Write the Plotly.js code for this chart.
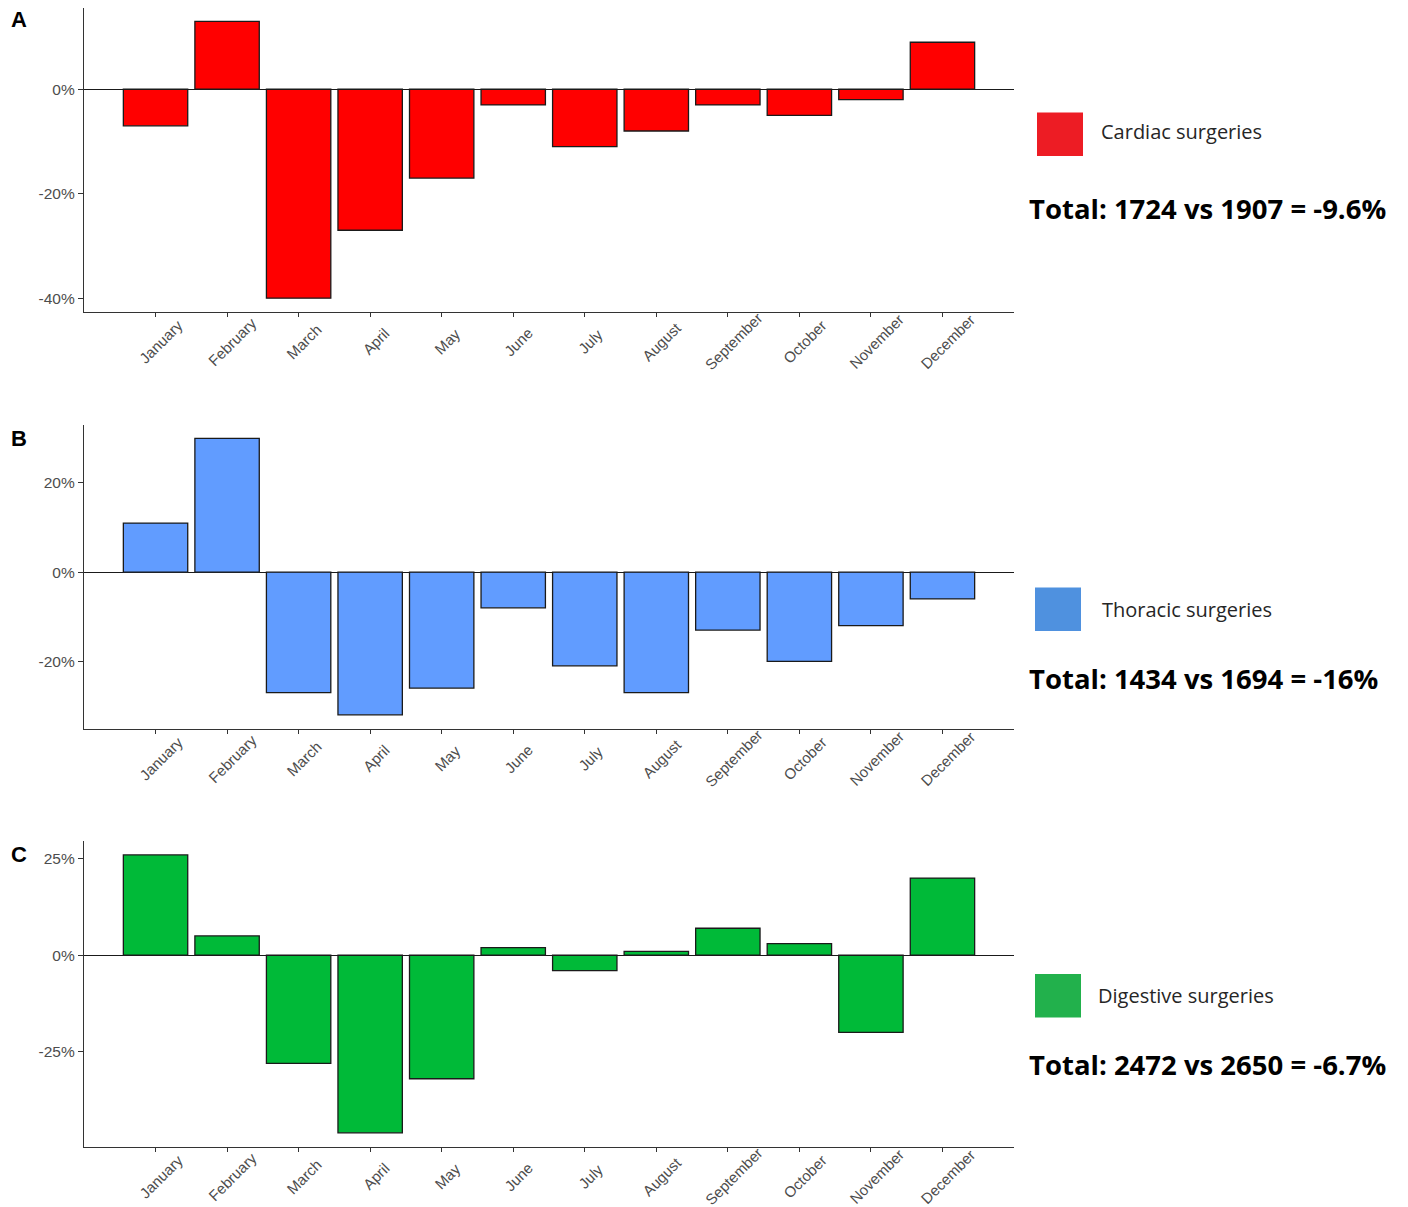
<!DOCTYPE html>
<html>
<head>
<meta charset="utf-8">
<script src="https://cdn.plot.ly/plotly-3.0.1.min.js"></script>
<style>
html,body{margin:0;padding:0;background:#fff;}
#chart{width:1408px;height:1207px;}
</style>
</head>
<body>
<div id="chart"></div>
<script>
// ---- data ----
const months = ["January","February","March","April","May","June","July","August","September","October","November","December"];
const cardiac   = [-7, 13, -40, -27, -17, -3, -11, -8, -3, -5, -2, 9];
const thoracic  = [11, 30, -27, -32, -26, -8, -21, -27, -13, -20, -12, -6];
const digestive = [26, 5, -28, -46, -32, 2, -4, 1, 7, 3, -20, 20];
const yTicksA = [-40, -20, 0];
const yTicksB = [-20, 0, 20];
const yTicksC = [-25, 0, 25];
const panelLetters = ["A", "B", "C"];
const seriesNames = ["Cardiac surgeries", "Thoracic surgeries", "Digestive surgeries"];
const totalTexts = ["Total: 1724 vs 1907 = -9.6%", "Total: 1434 vs 1694 = -16%", "Total: 2472 vs 2650 = -6.7%"];

// ---- styling / layout ----
const W = 1408, H = 1207;
const px = v => v / W;
const py = v => 1 - v / H;
const barColors = ["#FF0000", "#619CFF", "#00BA38"];
const keyColors = ["#ED1C24", "#4F91DF", "#22B14C"];
const series = [cardiac, thoracic, digestive];
const yRanges = [[-42.65, 15.65], [-35.1, 33.1], [-49.6, 29.6]];
const yTicks = [yTicksA, yTicksB, yTicksC];
// panel vertical extents in pixels (top, bottom)
const panelPx = [[7.5, 312], [424.5, 728.7], [841, 1146.7]];
const xDom = [px(84), px(1014)];
const tickFont = {family: "Liberation Sans, Arial, sans-serif", size: 15.5, color: "#4D4D4D"};

const traces = [];
const layout = {
  width: W, height: H,
  margin: {l: 0, r: 0, t: 0, b: 0},
  paper_bgcolor: "#fff", plot_bgcolor: "#fff",
  showlegend: false,
  bargap: 0.1,
  annotations: [],
  shapes: []
};

for (let i = 0; i < 3; i++) {
  const sfx = i === 0 ? "" : String(i + 1);
  traces.push({
    type: "bar",
    x: months,
    y: series[i],
    xaxis: "x" + sfx,
    yaxis: "y" + sfx,
    width: 0.9,
    marker: {color: barColors[i], line: {color: "#1a1a1a", width: 1.3}},
    hoverinfo: "x+y"
  });
  layout["xaxis" + sfx] = {
    domain: xDom,
    anchor: "y" + sfx,
    type: "category",
    categoryorder: "array",
    categoryarray: months,
    range: [-1.0, 12.0],
    showline: true, linecolor: "#333333", linewidth: 1.2,
    ticks: "outside", ticklen: 4, tickcolor: "#333333", tickwidth: 1,
    showticklabels: false,
    showgrid: false, zeroline: false, fixedrange: true
  };
  layout["yaxis" + sfx] = {
    domain: [py(panelPx[i][1]), py(panelPx[i][0])],
    anchor: "x" + sfx,
    range: yRanges[i],
    tickvals: yTicks[i],
    ticktext: yTicks[i].map(v => v + "%"),
    tickfont: tickFont,
    showline: true, linecolor: "#333333", linewidth: 1.2,
    ticks: "outside", ticklen: 5, tickcolor: "#333333", tickwidth: 1,
    showgrid: false,
    zeroline: true, zerolinecolor: "#1a1a1a", zerolinewidth: 1.2,
    fixedrange: true
  };
  // rotated month labels centred under ticks
  months.forEach(m => {
    layout.annotations.push({
      xref: "x" + sfx, yref: "y" + sfx + " domain",
      x: m, y: 0, xanchor: "center", yanchor: "middle",
      xshift: 5.5, yshift: -29.5,
      text: m, textangle: -45, showarrow: false,
      font: {family: "Liberation Sans, Arial, sans-serif", size: 15, color: "#4D4D4D"}
    });
  });
  // panel letter
  layout.annotations.push({
    xref: "paper", yref: "paper",
    x: px(19), y: py([20, 438, 854][i]), xanchor: "center", yanchor: "middle",
    text: "<b>" + panelLetters[i] + "</b>", showarrow: false,
    font: {family: "Liberation Sans, Arial, sans-serif", size: 22, color: "#000"}
  });
  // key square
  const keyTop = [112.5, 587.5, 974][i];
  const keyLeft = [1037, 1035, 1035][i];
  layout.shapes.push({
    type: "rect", xref: "paper", yref: "paper",
    x0: px(keyLeft), x1: px(keyLeft + 46), y0: py(keyTop + 43.5), y1: py(keyTop),
    fillcolor: keyColors[i], line: {width: 0}
  });
  layout.annotations.push({
    xref: "paper", yref: "paper",
    x: px([1099, 1100, 1096][i]), y: py([131, 609, 996][i]), xanchor: "left", yanchor: "middle",
    text: seriesNames[i], showarrow: false,
    font: {family: "Open Sans, sans-serif", size: 20, color: "#262626"}
  });
  layout.annotations.push({
    xref: "paper", yref: "paper",
    x: px(1027), y: py([209, 678, 1064][i]), xanchor: "left", yanchor: "middle",
    text: "<b>" + totalTexts[i] + "</b>", showarrow: false,
    font: {family: "Open Sans, sans-serif", size: 27.5, color: "#000"}
  });
}

Plotly.newPlot("chart", traces, layout, {displayModeBar: false, staticPlot: true});
</script>
</body>
</html>
